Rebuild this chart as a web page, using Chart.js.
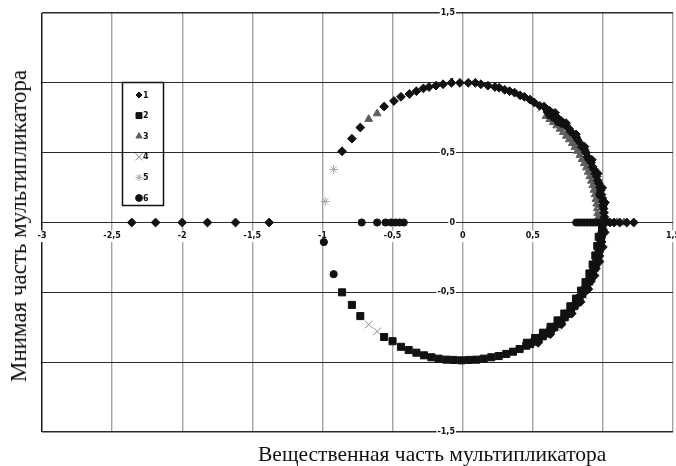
<!DOCTYPE html>
<html>
<head>
<meta charset="utf-8">
<script src="https://cdn.jsdelivr.net/npm/chart.js"></script>
<style>
  html, body { margin: 0; padding: 0; background: #fff; overflow: hidden; width: 676px; height: 466px; }
  #wrap { position: relative; width: 690px; height: 466px; }
  .ttl { position: absolute; font-family: "Liberation Serif", "DejaVu Serif", serif; color: #111; white-space: nowrap; }
  #ytitle { left: 19px; top: 226px; font-size: 23px; transform: translate(-50%, -50%) rotate(-90deg); }
  #xtitle { left: 258px; top: 442px; font-size: 21.5px; }
</style>
</head>
<body>
<div id="wrap">
  <canvas id="chart" width="690" height="466"></canvas>
  <div class="ttl" id="ytitle">Мнимая часть мультипликатора</div>
  <div class="ttl" id="xtitle">Вещественная часть мультипликатора</div>
</div>
<script>
// Оси
const xTicks = [-3, -2.5, -2, -1.5, -1, -0.5, 0, 0.5, 1, 1.5];
const yTicks = [-1.5, -1, -0.5, 0, 0.5, 1, 1.5];

// Серии (подписи легенды)
const seriesNames = ['1', '2', '3', '4', '5', '6'];
// порядок отрисовки (меньше - выше)
const drawOrder = [2, 3, 6, 5, 4, 1];

// 1 - ромбы
const s1x = [-2.36, -2.19, -2.0, -1.82, -1.62, -1.38,
  -0.86, -0.79, -0.73, -0.56, -0.49, -0.44, -0.38, -0.33, -0.28, -0.24, -0.19, -0.14, -0.08, -0.02,
  0.04, 0.09, 0.13, 0.18, 0.23, 0.26, 0.30, 0.335, 0.37, 0.41, 0.44, 0.48, 0.51, 0.55,
  0.58, 0.60, 0.62, 0.64, 0.66, 0.68, 0.70, 0.72, 0.74, 0.76, 0.77, 0.79, 0.81, 0.82, 0.84, 0.85,
  0.87, 0.88, 0.89, 0.90, 0.915, 0.926, 0.936, 0.946, 0.955, 0.963, 0.971, 0.978, 0.984, 0.99,
  0.995, 0.999, 1.0, 1.005, 1.008, 1.01, 1.01,
  0.659, 0.737, 0.808, 0.869, 0.921, 0.963, 0.995, 1.015,
  1.02, 1.05, 1.08, 1.12, 1.17, 1.22,
  1.0, 0.99, 0.975, 0.95, 0.915, 0.87, 0.82, 0.76, 0.70, 0.63,
  1.013, 1.0, 0.976, 0.941, 0.896, 0.841, 0.778, 0.705, 0.625, 0.538];
const s1y = [0, 0, 0, 0, 0, 0,
  0.51, 0.60, 0.68, 0.83, 0.87, 0.90, 0.92, 0.94, 0.96, 0.97, 0.98, 0.99, 1.0, 1.0,
  1.0, 1.0, 0.99, 0.98, 0.97, 0.965, 0.95, 0.94, 0.93, 0.91, 0.90, 0.88, 0.86, 0.835,
  0.83, 0.81, 0.80, 0.78, 0.76, 0.745, 0.73, 0.71, 0.69, 0.67, 0.65, 0.63, 0.61, 0.59, 0.565, 0.54,
  0.52, 0.50, 0.47, 0.45, 0.43, 0.40, 0.38, 0.35, 0.33, 0.30, 0.28, 0.25, 0.23, 0.20,
  0.175, 0.15, 0.12, 0.10, 0.07, 0.04, 0.02,
  0.785, 0.712, 0.631, 0.543, 0.449, 0.351, 0.248, 0.143,
  0, 0, 0, 0, 0, 0,
  -0.05, -0.14, -0.24, -0.33, -0.42, -0.50, -0.58, -0.65, -0.72, -0.78,
  -0.071, -0.176, -0.280, -0.380, -0.477, -0.568, -0.652, -0.730, -0.800, -0.861];

// 2 - квадраты
const s2x = [-0.86, -0.79, -0.73, -0.56, -0.50, -0.44, -0.385, -0.33, -0.276, -0.223, -0.171, -0.116,
  -0.064, -0.009, 0.045, 0.098, 0.15, 0.204, 0.257, 0.311, 0.359, 0.406, 0.454,
  0.482, 0.512, 0.542, 0.571, 0.599, 0.626, 0.653, 0.679, 0.704, 0.728, 0.751, 0.773, 0.795,
  0.815, 0.834, 0.853, 0.870, 0.887, 0.902, 0.916, 0.929, 0.941, 0.952, 0.961, 0.970, 0.977,
  0.983, 0.988, 0.991, 0.994, 0.995,
  0.458, 0.517, 0.573, 0.627, 0.677, 0.725, 0.768, 0.808, 0.844, 0.876, 0.904, 0.927, 0.946, 0.960, 0.970];
const s2y = [-0.50, -0.59, -0.67, -0.82, -0.85, -0.89, -0.913, -0.932, -0.951, -0.965, -0.975, -0.982,
  -0.984, -0.987, -0.984, -0.982, -0.975, -0.965, -0.956, -0.941, -0.925, -0.906, -0.882,
  -0.870, -0.853, -0.834, -0.815, -0.795, -0.773, -0.751, -0.728, -0.704, -0.679, -0.653, -0.626, -0.599,
  -0.571, -0.542, -0.512, -0.482, -0.452, -0.421, -0.389, -0.357, -0.324, -0.291, -0.258, -0.224, -0.190,
  -0.156, -0.121, -0.087, -0.052, -0.017,
  -0.861, -0.827, -0.789, -0.747, -0.701, -0.652, -0.600, -0.545, -0.488, -0.427, -0.365, -0.301, -0.236, -0.169, -0.102];

// 3 - треугольники
const s3x = [-0.67, -0.61,
  0.595, 0.621, 0.646, 0.670, 0.694, 0.717, 0.739, 0.760, 0.781, 0.800, 0.818, 0.836, 0.852,
  0.867, 0.882, 0.895, 0.907, 0.918, 0.928, 0.936, 0.944, 0.950, 0.956, 0.960, 0.963, 0.965,
  1.04, 1.10, 1.15,
  0.985, 0.97, 0.93, 0.80, 0.70];
const s3y = [0.74, 0.78,
  0.761, 0.739, 0.717, 0.694, 0.670, 0.646, 0.620, 0.594, 0.567, 0.540, 0.512, 0.483, 0.453,
  0.423, 0.393, 0.362, 0.330, 0.298, 0.266, 0.233, 0.200, 0.167, 0.134, 0.101, 0.067, 0.034,
  0, 0, 0,
  -0.10, -0.20, -0.37, -0.60, -0.71];

// 4 - косые крестики
const s4x = [-0.67, -0.61, 0.56, 0.74, 0.96, 0.67, 0.86];
const s4y = [-0.73, -0.78, 0.82, 0.67, 0.33, -0.75, -0.52];

// 5 - звёздочки
const s5x = [-0.92, -0.98, 0.99, 0.98, 0.62, 0.90];
const s5y = [0.38, 0.15, 0.10, -0.17, -0.78, -0.45];

// 6 - круги
const s6x = [-0.99, -0.92, -0.72, -0.61, -0.55, -0.51, -0.48, -0.45, -0.42,
  0.60, 0.616, 0.63, 0.643, 0.656, 0.669, 0.682, 0.695, 0.707, 0.976,
  0.61, 0.64, 0.67, 0.70, 0.62, 0.65, 0.68,
  0.81, 0.83, 0.85, 0.87, 0.89, 0.91, 0.93, 0.95, 0.97, 0.99];
const s6y = [-0.14, -0.37, 0, 0, 0, 0, 0, 0, 0,
  0.80, 0.788, 0.777, 0.766, 0.755, 0.743, 0.731, 0.719, 0.707, 0.20,
  0.80, 0.78, 0.75, 0.72, 0.77, 0.75, 0.72,
  0, 0, 0, 0, 0, 0, 0, 0, 0, 0];

function pts(xs, ys) {
  return xs.map((x, i) => ({ x: x, y: ys[i] }));
}

const styles = [
  { pointStyle: 'rectRot', radius: 4.4, color: '#111111', legendRadius: 3 },
  { pointStyle: 'rect', radius: 5, color: '#111111', legendRadius: 4.2 },
  { pointStyle: 'triangle', radius: 4.5, color: '#5e5e5e', legendRadius: 3.6 },
  { pointStyle: 'crossRot', radius: 5.5, color: '#8a8a8a', legendRadius: 5 },
  { pointStyle: 'star', radius: 4.5, color: '#a8a8a8', legendRadius: 3.6 },
  { pointStyle: 'circle', radius: 3.6, color: '#111111', legendRadius: 3.4 }
];
const seriesData = [pts(s1x, s1y), pts(s2x, s2y), pts(s3x, s3y), pts(s4x, s4y), pts(s5x, s5y), pts(s6x, s6y)];

const datasets = seriesData.map((d, i) => ({
  label: seriesNames[i],
  data: d,
  pointStyle: styles[i].pointStyle,
  pointRadius: styles[i].radius,
  pointHoverRadius: styles[i].radius,
  pointBackgroundColor: styles[i].color,
  pointBorderColor: styles[i].color,
  pointBorderWidth: 1,
  showLine: false,
  order: drawOrder[i]
}));

const fmt = v => String(v).replace('.', ',');
const tickFont = { family: 'DejaVu Sans', size: 8, weight: 'bold' };

// легенда в рамке внутри области графика
const boxLegend = {
  id: 'boxLegend',
  afterDatasetsDraw(chart) {
    const ctx = chart.ctx;
    ctx.save();
    ctx.strokeStyle = '#111';
    ctx.lineWidth = 1.5;
    ctx.strokeRect(122.5, 82.5, 41, 123);
    ctx.font = 'bold 8px "DejaVu Sans"';
    ctx.textAlign = 'left';
    ctx.textBaseline = 'middle';
    seriesNames.forEach((name, i) => {
      const y = 95 + i * 20.6;
      ctx.fillStyle = styles[i].color;
      ctx.strokeStyle = styles[i].color;
      ctx.lineWidth = 1;
      Chart.helpers.drawPoint(ctx, { pointStyle: styles[i].pointStyle, radius: styles[i].legendRadius, rotation: 0, borderWidth: 1 }, 139, y);
      ctx.fillStyle = '#111';
      ctx.fillText(name, 143, y + 0.5);
    });
    ctx.restore();
  }
};

new Chart(document.getElementById('chart'), {
  type: 'scatter',
  data: { datasets: datasets },
  options: {
    responsive: false,
    animation: false,
    layout: { padding: { left: 42, top: 13, right: 17, bottom: 34 } },
    plugins: { legend: { display: false }, tooltip: { enabled: false } },
    scales: {
      x: {
        type: 'linear',
        min: -3,
        max: 1.5,
        position: { y: 0 },
        afterBuildTicks: s => { s.ticks = xTicks.map(v => ({ value: v })); },
        border: { display: false },
        grid: {
          drawTicks: false,
          color: c => (c.tick && c.tick.value === -3) ? '#1a1a1a' : '#a3a3a3',
          lineWidth: c => (c.tick && c.tick.value === -3) ? 1.5 : 1.4
        },
        ticks: {
          font: tickFont,
          color: '#111',
          padding: 9,
          maxRotation: 0,
          autoSkip: false,
          callback: v => fmt(v),
          showLabelBackdrop: true,
          backdropColor: '#fff',
          backdropPadding: 1
        }
      },
      y: {
        type: 'linear',
        min: -1.5,
        max: 1.5,
        position: { x: -0.055 },
        afterBuildTicks: s => { s.ticks = yTicks.map(v => ({ value: v })); },
        border: { display: false },
        grid: {
          drawTicks: false,
          color: '#2a2a2a',
          lineWidth: c => (c.tick && Math.abs(c.tick.value) === 1.5) ? 1.5 : 1.1
        },
        ticks: {
          font: tickFont,
          color: '#111',
          autoSkip: false,
          callback: v => fmt(v),
          showLabelBackdrop: true,
          backdropColor: '#fff',
          backdropPadding: 1
        }
      }
    }
  },
  plugins: [boxLegend]
});
</script>
</body>
</html>
